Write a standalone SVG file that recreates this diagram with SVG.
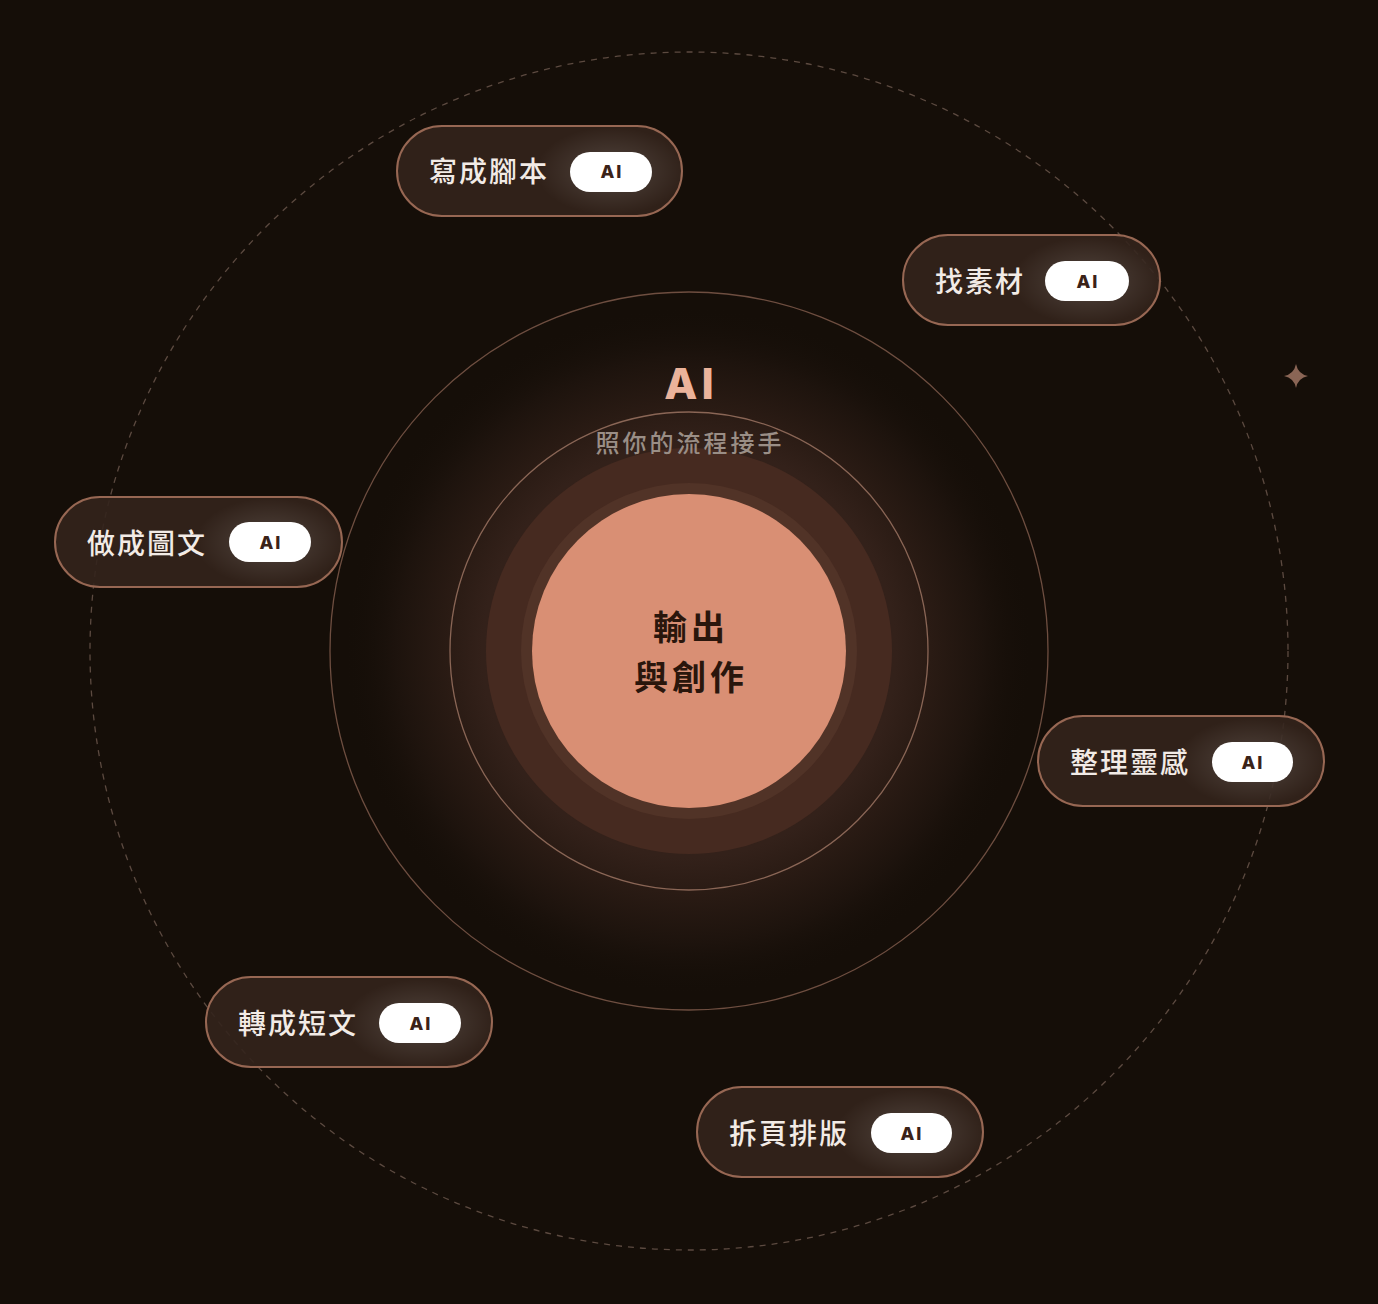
<svg xmlns="http://www.w3.org/2000/svg" width="1378" height="1304" viewBox="0 0 1378 1304">
<defs>
<radialGradient id="glow" cx="689" cy="651" r="345" gradientUnits="userSpaceOnUse">
<stop offset="0" stop-color="#3a251b"/>
<stop offset="0.6" stop-color="#33211a"/>
<stop offset="0.7" stop-color="#2a1b14"/>
<stop offset="0.85" stop-color="#1d130d"/>
<stop offset="1" stop-color="#150e08" stop-opacity="0"/>
</radialGradient>
<radialGradient id="bglow">
<stop offset="0" stop-color="#ffffff" stop-opacity="0.22"/>
<stop offset="0.5" stop-color="#ffffff" stop-opacity="0.08"/>
<stop offset="1" stop-color="#ffffff" stop-opacity="0"/>
</radialGradient>
<style>
.pill{fill:#33241c;fill-opacity:0.9;stroke:#976753;stroke-width:2}
.lbl{font-family:"Noto Sans CJK TC","Noto Sans CJK SC",sans-serif;font-size:28px;font-weight:500;fill:#f2ebe6;letter-spacing:2px}
.badge{fill:#ffffff}
.ai{font-family:Inter,"Liberation Sans",sans-serif;font-size:18px;font-weight:800;fill:#3a2218;letter-spacing:2px;text-anchor:middle}
</style>
</defs>
<rect width="1378" height="1304" fill="#150e08"/>
<g id="rings">
<circle cx="689" cy="651" r="345" fill="url(#glow)"/>
<circle cx="689" cy="651" r="599" fill="none" stroke="#5c4a40" stroke-width="1.3" stroke-dasharray="6 6"/>
<circle cx="689" cy="651" r="359" fill="none" stroke="#6e4e40" stroke-width="1.3"/>
<circle cx="689" cy="651" r="239" fill="none" stroke="#8a6656" stroke-width="1.3"/>
<circle cx="689" cy="651" r="203" fill="#462a20"/>
<circle cx="689" cy="651" r="168" fill="#513327"/>
</g>
<g id="star">
<path d="M1296 364 Q1298 374 1308 376 Q1298 378 1296 388 Q1294 378 1284 376 Q1294 374 1296 364 Z" fill="#8a6555"/>
</g>
<g id="title">
<text x="691" y="399" font-family="Inter,'Liberation Sans',sans-serif" font-size="43" font-weight="800" fill="#ebb39b" text-anchor="middle" letter-spacing="4">AI</text>
<text x="690" y="452" font-family="'Noto Sans CJK TC','Noto Sans CJK SC',sans-serif" font-size="24" font-weight="500" fill="#9a8e86" text-anchor="middle" letter-spacing="3">照你的流程接手</text>
</g>
<g id="core">
<circle cx="689" cy="651" r="157" fill="#d98f74"/>
<text x="691" y="640" font-family="'Noto Sans CJK TC','Noto Sans CJK SC',sans-serif" font-size="34" font-weight="700" fill="#2a160c" text-anchor="middle" letter-spacing="4">輸出</text>
<text x="691" y="690" font-family="'Noto Sans CJK TC','Noto Sans CJK SC',sans-serif" font-size="34" font-weight="700" fill="#2a160c" text-anchor="middle" letter-spacing="4">與創作</text>
</g>
<g id="connectors"></g>
<g id="node-script" transform="translate(397,126)">
<rect class="pill" x="0" y="0" width="285" height="90" rx="45"/>
<ellipse cx="214" cy="45" rx="75" ry="44" fill="url(#bglow)"/>
<text class="lbl" x="32" y="56">寫成腳本</text>
<rect class="badge" x="173" y="26" width="82" height="40" rx="20"/>
<text class="ai" x="215" y="52">AI</text>
</g>
<g id="node-material" transform="translate(903,235)">
<rect class="pill" x="0" y="0" width="257" height="90" rx="45"/>
<ellipse cx="184" cy="46" rx="75" ry="44" fill="url(#bglow)"/>
<text class="lbl" x="32" y="57">找素材</text>
<rect class="badge" x="142" y="26" width="84" height="40" rx="20"/>
<text class="ai" x="185" y="53">AI</text>
</g>
<g id="node-graphic" transform="translate(55,497)">
<rect class="pill" x="0" y="0" width="287" height="90" rx="45"/>
<ellipse cx="215" cy="45" rx="75" ry="44" fill="url(#bglow)"/>
<text class="lbl" x="32" y="57">做成圖文</text>
<rect class="badge" x="174" y="25" width="82" height="40" rx="20"/>
<text class="ai" x="216" y="52">AI</text>
</g>
<g id="node-idea" transform="translate(1038,716)">
<rect class="pill" x="0" y="0" width="286" height="90" rx="45"/>
<ellipse cx="214" cy="46" rx="75" ry="44" fill="url(#bglow)"/>
<text class="lbl" x="32" y="57">整理靈感</text>
<rect class="badge" x="174" y="26" width="81" height="40" rx="20"/>
<text class="ai" x="215" y="53">AI</text>
</g>
<g id="node-short" transform="translate(206,977)">
<rect class="pill" x="0" y="0" width="286" height="90" rx="45"/>
<ellipse cx="214" cy="46" rx="75" ry="44" fill="url(#bglow)"/>
<text class="lbl" x="32" y="57">轉成短文</text>
<rect class="badge" x="173" y="26" width="82" height="40" rx="20"/>
<text class="ai" x="215" y="53">AI</text>
</g>
<g id="node-layout" transform="translate(697,1087)">
<rect class="pill" x="0" y="0" width="286" height="90" rx="45"/>
<ellipse cx="214" cy="46" rx="75" ry="44" fill="url(#bglow)"/>
<text class="lbl" x="32" y="57">拆頁排版</text>
<rect class="badge" x="174" y="26" width="81" height="40" rx="20"/>
<text class="ai" x="215" y="53">AI</text>
</g>
</svg>
